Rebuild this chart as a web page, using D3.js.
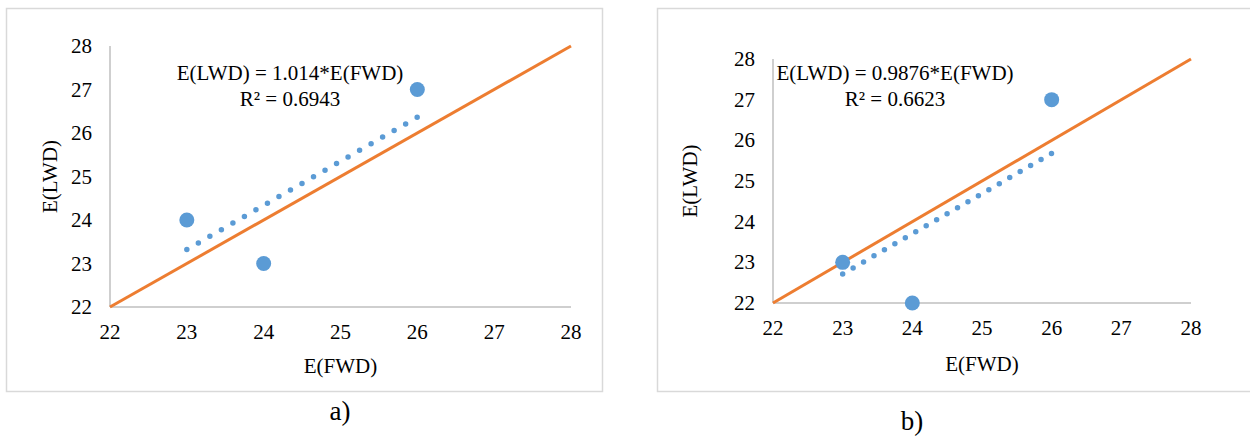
<!DOCTYPE html>
<html>
<head>
<meta charset="utf-8">
<script src="https://cdn.jsdelivr.net/npm/d3@7"></script>
<style>
  body { margin: 0; background: #fff; }
  text { font-family: "Liberation Serif", "Times New Roman", serif; fill: #000; }
</style>
</head>
<body>
<div id="chart"></div>
<script>
// axis ticks, shared by both panels
const ticks = [22, 23, 24, 25, 26, 27, 28];

// panel a)
const fwdA = [23, 24, 26];
const lwdA = [24, 23, 27];
const slopeA = 1.014;
const eqA = "E(LWD) = 1.014*E(FWD)";
const r2A = "R² = 0.6943";

// panel b)
const fwdB = [23, 24, 26];
const lwdB = [23, 22, 27];
const slopeB = 0.9876;
const eqB = "E(LWD) = 0.9876*E(FWD)";
const r2B = "R² = 0.6623";

const trendSpan = [23, 26];   // range of the fitted trendline
const identity = [22, 28];    // y = x reference line

const W = 1250, H = 437;
const svg = d3.select("#chart").append("svg").attr("width", W).attr("height", H);

const panels = [
  { fwd: fwdA, lwd: lwdA, slope: slopeA, eq: eqA, r2: r2A, label: "a)",
    box: [6, 8, 596, 383], x: [110, 571], y: [307, 46], yLab: 92, yTitle: 57,
    eqX: 290, eqY: 80, xTitleY: 373, labelX: 340, labelY: 420 },
  { fwd: fwdB, lwd: lwdB, slope: slopeB, eq: eqB, r2: r2B, label: "b)",
    box: [657, 8, 600, 383], x: [773, 1191], y: [303, 59], yLab: 755, yTitle: 697,
    eqX: 895, eqY: 80, xTitleY: 371, labelX: 912, labelY: 430 }
];

panels.forEach(p => {
  const g = svg.append("g");
  g.append("rect")
    .attr("x", p.box[0] + 0.5).attr("y", p.box[1] + 0.5)
    .attr("width", p.box[2]).attr("height", p.box[3])
    .attr("fill", "#fff").attr("stroke", "#d9d9d9").attr("stroke-width", 1.5);

  const x = d3.scaleLinear().domain([22, 28]).range(p.x);
  const y = d3.scaleLinear().domain([22, 28]).range(p.y);

  // axis lines
  g.append("line").attr("x1", x(22)).attr("x2", x(28)).attr("y1", y(22)).attr("y2", y(22))
    .attr("stroke", "#bfbfbf").attr("stroke-width", 1.5);
  g.append("line").attr("x1", x(22)).attr("x2", x(22)).attr("y1", y(22)).attr("y2", y(28))
    .attr("stroke", "#bfbfbf").attr("stroke-width", 1.5);

  // tick labels
  g.selectAll(".xt").data(ticks).enter().append("text")
    .attr("x", d => x(d)).attr("y", y(22) + 32)
    .attr("text-anchor", "middle").attr("font-size", 21).text(d => d);
  g.selectAll(".yt").data(ticks).enter().append("text")
    .attr("x", p.yLab).attr("y", d => y(d) + 7)
    .attr("text-anchor", "end").attr("font-size", 21).text(d => d);

  // axis titles
  g.append("text").attr("x", (p.x[0] + p.x[1]) / 2).attr("y", p.xTitleY)
    .attr("text-anchor", "middle").attr("font-size", 21).text("E(FWD)");
  g.append("text")
    .attr("transform", "translate(" + p.yTitle + "," + (p.y[0] + p.y[1]) / 2 + ") rotate(-90)")
    .attr("text-anchor", "middle").attr("font-size", 21).text("E(LWD)");

  // y = x line
  g.append("line")
    .attr("x1", x(identity[0])).attr("y1", y(identity[0]))
    .attr("x2", x(identity[1])).attr("y2", y(identity[1]))
    .attr("stroke", "#ed7d31").attr("stroke-width", 3);

  // dotted trendline through origin
  const tx1 = x(trendSpan[0]), ty1 = y(trendSpan[0] * p.slope);
  const tx2 = x(trendSpan[1]), ty2 = y(trendSpan[1] * p.slope);
  const len = Math.hypot(tx2 - tx1, ty2 - ty1);
  g.append("line")
    .attr("x1", tx1).attr("y1", ty1).attr("x2", tx2).attr("y2", ty2)
    .attr("stroke", "#5b9bd5").attr("stroke-width", 5.5)
    .attr("stroke-linecap", "round")
    .attr("stroke-dasharray", "0 " + (len / 20 - 0.01));

  // data points
  g.selectAll(".pt").data(p.fwd.map((d, i) => [d, p.lwd[i]])).enter().append("circle")
    .attr("cx", d => x(d[0])).attr("cy", d => y(d[1])).attr("r", 7.5)
    .attr("fill", "#5b9bd5");

  // equation
  g.append("text").attr("x", p.eqX).attr("y", p.eqY)
    .attr("text-anchor", "middle").attr("font-size", 21).text(p.eq);
  g.append("text").attr("x", p.eqX).attr("y", p.eqY + 26)
    .attr("text-anchor", "middle").attr("font-size", 21).text(p.r2);

  // panel label
  g.append("text").attr("x", p.labelX).attr("y", p.labelY)
    .attr("text-anchor", "middle").attr("font-size", 27).text(p.label);
});
</script>
</body>
</html>
